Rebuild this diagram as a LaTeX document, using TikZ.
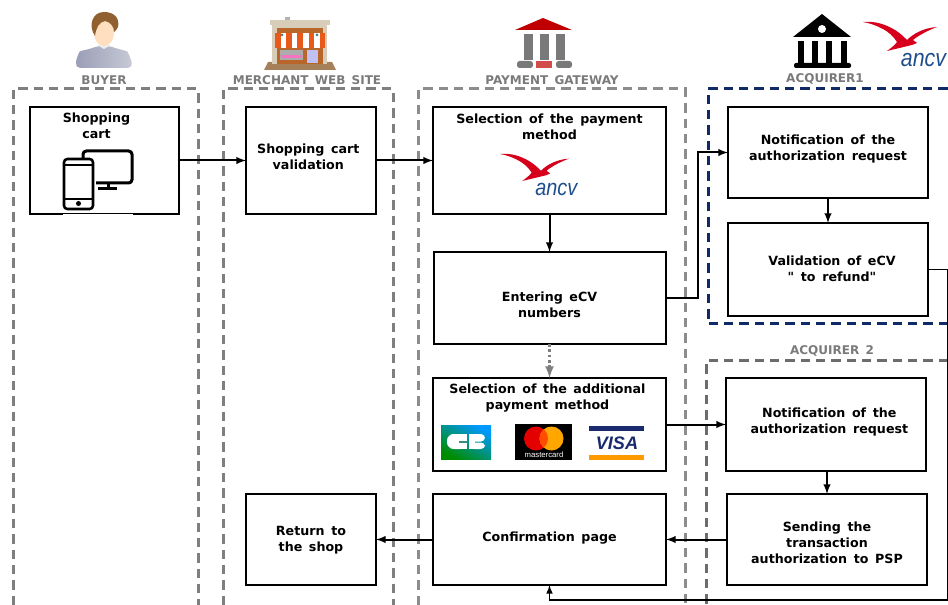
\documentclass[tikz,border=0pt]{standalone}
\usepackage{fontspec}
\newfontfamily\boxfont{DejaVu Sans}[WordSpace=1.5]
\newfontfamily\logofont{Liberation Sans}
\usetikzlibrary{positioning}
\definecolor{lanegray}{HTML}{7F7F7F}
\definecolor{lanenavy}{HTML}{0F2A66}
\definecolor{titlegray}{HTML}{7A7A7A}
\definecolor{ancvred}{HTML}{D6001C}
\definecolor{ancvblue}{HTML}{1F4E8C}
\definecolor{bankred}{HTML}{C00000}
\definecolor{visablue}{HTML}{1A2A6E}
\definecolor{facade}{HTML}{D8CDB8}
\definecolor{shopwood}{HTML}{B8662A}
\definecolor{awning}{HTML}{E8591A}
\definecolor{shirtdark}{HTML}{9A9EB6}
\definecolor{shirtlight}{HTML}{C8CAD6}
% text of a box, raised by #2 and moved sideways by half of #1
\newcommand{\boxtext}[3][0pt]{%
  \raisebox{\dimexpr #2-3pt\relax}[0pt][0pt]{\makebox[0pt]{\kern#1\begin{tabular}[c]{@{}c@{}}#3\end{tabular}}}}
\tikzset {
  lane/.style = {
    draw = lanegray,
    line width = 2.25pt,
    dash pattern = on 7pt off 4.5pt
  },
  lane title/.style = {
    font = \boxfont\fontsize{9}{12}\selectfont\bfseries,
    text = titlegray
  },
  % process box
  proc/.style = {
    draw = black,
    fill = white,
    line width = 1.5pt,
    outer sep = 0,
    inner sep = 0,
    font = \boxfont\fontsize{9.5}{12}\selectfont\bfseries
  },
  arr/.style = {
    draw = black,
    line width = 1.5pt,
    -latex
  },
  % thin connector at the right edge
  thin arr/.style = {
    arr,
    line width = 1.2pt
  },
  dotarr/.style = {
    draw = lanegray,
    line width = 2pt,
    dotted,
    -latex
  },
  % bird and letters, origin at the left wing tip
  ancv/.pic = {
    \fill[ancvred] (0,0)
      .. controls (12,-1) and (22,2) .. (32,8)
      .. controls (37,11) and (41,15) .. (44,18)
      .. controls (50,12) and (60,6) .. (74,5)
      .. controls (66,8) and (56,13) .. (50,18)
      -- (54,21) -- (49,23)
      -- (24,29)
      .. controls (28,26) and (32,23) .. (34,20)
      .. controls (30,14) and (26,10) .. (18,6)
      .. controls (12,3) and (6,1) .. (0,0) -- cycle;
    \node[transform shape, text = ancvblue, inner sep = 0, yscale = 1.15,
      font = \logofont\itshape\fontsize{16}{16}\selectfont] (ancv-text) at (60.5,38.5) {ancv};
  }
}
\begin{document}
\begin{tikzpicture}[x=0.75pt, y=-0.75pt]
  \useasboundingbox (0,0) rectangle (948,605);

  % lanes
  \draw[lane] (13,605) -- (13,89) -- (198,89) -- (198,605);
  \draw[lane] (223,605) -- (223,89) -- (393,89) -- (393,605);
  \draw[lane, draw = lanegray!90!white] (418,605) -- (418,89) -- (685,89) -- (685,605);
  \draw[lane, draw = lanenavy] (948,324) -- (708,324) -- (708,89) -- (948,89);
  \draw[lane, draw = lanegray!85!black] (948,361) -- (706,361) -- (706,605);

  \node[lane title] (buyer) at (104,80) {BUYER};
  \node[lane title] (merchant) at (307,80) {MERCHANT WEB SITE};
  \node[lane title] (gateway) at (552,80) {PAYMENT GATEWAY};
  \node[lane title] (acquirer a) at (825,79) {ACQUIRER1};
  \node[lane title] (acquirer b) at (832,351) {ACQUIRER 2};

  % boxes
  \node[proc, minimum width = 111.75pt, minimum height = 80.25pt] (cart) at (104.5,160.5)
    {\boxtext[-12pt]{25.9pt}{Shopping\\cart}};
  \node[proc, minimum width = 97.5pt, minimum height = 80.25pt] (validation) [right=50.25pt of cart]
    {\boxtext[-4pt]{2.6pt}{Shopping cart\\validation}};
  \node[proc, minimum width = 174.75pt, minimum height = 80.25pt] (selection) [right=42.75pt of validation]
    {\boxtext{25.1pt}{Selection of the payment\\method}};
  \node[proc, minimum width = 174pt, minimum height = 69pt] (entering) [below=28.5pt of selection]
    {\boxtext{-5.25pt}{Entering eCV\\numbers}};
  \node[proc, minimum width = 174.75pt, minimum height = 69.75pt] (additional) [below=25.5pt of entering]
    {\boxtext[-3pt]{20.6pt}{Selection of the additional\\payment method}};
  \node[proc, minimum width = 174.75pt, minimum height = 68.25pt] (confirm) [below=17.25pt of additional]
    {\boxtext{1.9pt}{Confirmation page}};
  \node[proc, minimum width = 97.5pt, minimum height = 68.25pt] (return) [left=42.75pt of confirm]
    {\boxtext{0pt}{Return to\\the shop}};
  \node[proc, minimum width = 150pt, minimum height = 68.25pt] (notif a) at (828,152.5)
    {\boxtext{3.4pt}{Notification of the\\authorization request}};
  \node[proc, minimum width = 150pt, minimum height = 69.75pt] (refund) [below=18.75pt of notif a]
    {\boxtext[6pt]{0pt}{Validation of eCV\\" to refund"}};
  \node[proc, minimum width = 150pt, minimum height = 69.75pt] (notif b) [right=45pt of additional]
    {\boxtext[5pt]{2.6pt}{Notification of the\\authorization request}};
  \node[proc, minimum width = 150pt, minimum height = 68.25pt] (sending) [right=45.75pt of confirm]
    {\boxtext{-2.6pt}{Sending the\\transaction\\authorization to PSP}};

  % connectors
  \coordinate[right=24pt of entering] (entering-up);
  \coordinate (refund-right) at (947.5,269.5);
  \coordinate (refund-low) at (947.5,600);

  \draw[arr] (cart) -- (validation);
  \draw[arr] (validation) -- (selection);
  \draw[arr] (selection) -- (entering);
  \draw[dotarr] (entering) -- (additional);
  \draw[arr] (entering) -- (entering-up) |- (notif a);
  \draw[arr] (notif a) -- (refund);
  \draw[arr] (additional) -- (notif b);
  \draw[arr] (notif b.south -| sending) -- (sending);
  \draw[arr] (sending) -- (confirm);
  \draw[arr] (confirm) -- (return);
  \draw[thin arr] (refund) -- (refund-right) -- (refund-low) -| (confirm);

  % buyer
  \shade[left color = shirtdark, right color = shirtlight, rounded corners = 4pt]
    (75,68) -- (77,56) .. controls (80,51) and (90,49) .. (97,46)
    -- (110,46) .. controls (118,49) and (127,51) .. (130,56) -- (133,68) -- cycle;
  \fill[white!85!gray] (97,45) -- (104,49) -- (111,45) -- cycle;
  \fill[orange!25!white] (104,33) ellipse (10 and 13);
  \fill[brown!75!black] (95,36)
    .. controls (88,26) and (92,12) .. (104,12)
    .. controls (114,12) and (120,18) .. (118,27)
    .. controls (117,30) and (115,31) .. (114,32)
    .. controls (114,26) and (110,22) .. (105,21)
    .. controls (99,22) and (96,28) .. (95,36) -- cycle;

  % shop
  \fill[brown!60!gray] (268,62) -- (332,62) -- (336,70) -- (264,70) -- cycle;
  \fill[gray!60] (285,17) rectangle (290,20);
  \fill[facade] (270,20) rectangle (330,25);
  \fill[facade] (272,25) rectangle (327,64);
  \fill[shopwood] (277,28) rectangle (323,64);
  \foreach \stripe in {0,2,4,6,8} {
    \fill[awning] (275+\stripe*5.6,33) rectangle ++(5.6,15);
  }
  \foreach \stripe in {1,3,5,7} {
    \fill[white] (275+\stripe*5.6,33) rectangle ++(5.6,15);
  }
  \fill[gray!65] (280,50) rectangle (303,60);
  \fill[magenta!55] (281,55) rectangle (302,58);
  \fill[gray!35!blue!30] (307,50) rectangle (318,63);
  \fill[teal!50!gray] (282,35) circle (1.5);
  \fill[teal!50!gray] (317,35) circle (1.5);

  % gateway bank
  \fill[bankred] (515,30) -- (543,18) -- (572,30) -- cycle;
  \foreach \colx in {524,540,556} {
    \fill[gray!95!black] (\colx,34) rectangle ++(9,26);
  }
  \fill[gray!95!black, rounded corners = 2pt] (517,61) rectangle (533,68);
  \fill[bankred!70!white] (536,61) rectangle (552,68);
  \fill[gray!95!black, rounded corners = 2pt] (556,61) rectangle (572,68);

  % acquirer bank
  \fill[black] (793,37) -- (822,14) -- (851,37) -- cycle;
  \fill[white] (822,29) circle (4);
  \foreach \colx in {798,812,826,841} {
    \fill[black] (\colx,41) rectangle ++(6,22);
  }
  \fill[black, rounded corners = 1.5pt] (794,63) rectangle (851,68);

  \pic at (863,22) {ancv};
  \pic[scale = 0.93] at (500,154) {ancv};

  % devices
  \draw[white, line width = 0.75pt] (63,214.8) -- (133,214.8);
  \draw[black, line width = 2.25pt, rounded corners = 2.5pt] (83,158) -- (83,151) -- (132,151)
    -- (132,183) -- (96,183);
  \draw[black, line width = 2.25pt] (108,183) -- (108,189);
  \draw[black, line width = 2.25pt] (98,189) -- (117,189);
  \draw[black, line width = 1.9pt, rounded corners = 2.5pt] (64,159) rectangle (93,209);
  \draw[black, line width = 1.2pt] (64,165) -- (93,165);
  \draw[black, line width = 1.2pt] (64,199) -- (93,199);
  \fill[black] (78.5,203.5) circle (2.5);

  % cards
  \shade[bottom color = green!55!black, top color = cyan!60!blue, shading angle = -30] (441,425) rectangle (491,459);
  \fill[white, rounded corners = 5pt] (447,434) rectangle (467,449);
  \fill[white] (458,434) rectangle (467,449);
  \fill[cyan!40!green!70!black] (459,441) rectangle (467,442.5);
  \fill[white] (469,434) rectangle (475,449);
  \fill[white, rounded corners = 3pt] (470,434) rectangle (485,441.5);
  \fill[white, rounded corners = 3pt] (470,442.5) rectangle (485,449);

  \fill[black] (515,424) rectangle (572,460);
  \fill[red!90!black] (536,438.5) circle (12);
  \fill[orange!70!yellow] (551.5,438.5) circle (12);
  \begin{scope}
    \clip (536,438.5) circle (12);
    \fill[orange!60!red] (551.5,438.5) circle (12);
  \end{scope}
  \node[inner sep = 0, text = white, font = \logofont\fontsize{5.8}{6}\selectfont] (mastercard) at (544,455) {mastercard};

  \fill[visablue] (589,426) rectangle (644,431);
  \node[inner sep = 0, text = visablue, font = \logofont\bfseries\itshape\fontsize{13.6}{14}\selectfont] (visa) at (617,443.5) {VISA};
  \fill[orange!80!yellow] (589,455) rectangle (644,459.5);
\end{tikzpicture}
\end{document}
